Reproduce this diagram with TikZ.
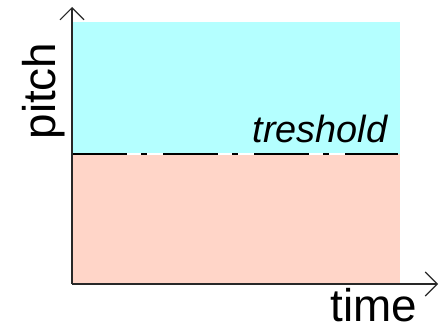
\documentclass[tikz,border=0pt]{standalone}
\usepackage{fontspec}
\setmainfont{Liberation Sans}
\usetikzlibrary{arrows.meta}
\definecolor{highzone}{RGB}{180,255,255}
\definecolor{lowzone}{RGB}{255,213,200}
\definecolor{axisgray}{RGB}{40,40,40}
\tikzset{
  axisline/.style={draw=axisgray, line width=1.8bp,
    -{Straight Barb[length=12bp, width=24bp, line width=1.1bp]}},
  label/.style={inner sep=0pt, font=\fontsize{46}{46}\selectfont},
  threshline/.style={line width=2bp, dash pattern=on 55bp off 14bp on 6bp off 16bp},
}
\begin{document}
\begin{tikzpicture}[x=1bp, y=1bp]
  \useasboundingbox[fill=white] (0,0) rectangle (439,329);
  % coloured regions above and below the threshold
  \fill[highzone] (73,175) rectangle (400,307);
  \fill[lowzone] (73,45) rectangle (400,175);
  % threshold line with a white underlay showing through the gaps
  \coordinate (ts) at (72,175);
  \coordinate (te) at (398,175);
  \draw[white, line width=2bp] (ts) -- (te);
  \draw[black, threshline] (ts) -- (te);
  % axes
  \coordinate (origin) at (72,45);
  \coordinate (ytip) at (72,322);
  \coordinate (xtip) at (438,45);
  \draw[axisline] (origin) -- (ytip);
  \draw[axisline] (origin) -- (xtip);
  % labels
  \node[label, rotate=90, anchor=base] (pitch) at (55,238) {pitch};
  \node[label, anchor=base] (time) at (374,8) {time};
  \node[inner sep=0pt, anchor=base, font=\fontsize{38}{38}\selectfont\itshape] (thr) at (320,187) {treshold};
\end{tikzpicture}
\end{document}
